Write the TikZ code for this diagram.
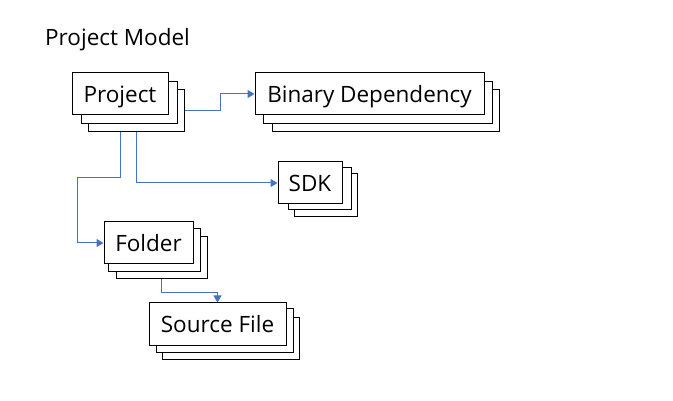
\documentclass[tikz,border=0pt]{standalone}
\usepackage{fontspec}
\setmainfont{Open Sans}
\usetikzlibrary{calc,arrows.meta}
\tikzset{
  sheet/.style={draw=black,line width=1pt,fill=white,inner sep=0pt},
  front/.style={draw=black,line width=1pt,fill=white,inner sep=0pt,text height=18pt,text depth=0pt,font=\fontsize{22.5}{24}\selectfont},
  arr/.style={draw={rgb,255:red,68;green,114;blue,196},line width=1pt,-{Triangle[length=7pt,width=8pt]}}
}
\begin{document}
\begin{tikzpicture}[x=1pt,y=-1pt]
\useasboundingbox (0,0) rectangle (673,401);
\node[anchor=base west,inner sep=0pt,font=\fontsize{22.5}{24}\selectfont] (title) at (45,46) {Project Model};
% Project
\node[sheet,minimum width=96,minimum height=42] (projC) at (136,111) {};
\node[sheet,minimum width=96,minimum height=42] (projB) at (129,103) {};
\node[front,minimum width=96,minimum height=42] (proj) at (120,94) {Project};
% Binary
\node[sheet,minimum width=227,minimum height=42] (binC) at (385.5,111) {};
\node[sheet,minimum width=229,minimum height=42] (binB) at (377.5,103) {};
\node[front,minimum width=229,minimum height=42] (bin) at (369.5,94) {Binary Dependency};
% SDK
\node[sheet,minimum width=63,minimum height=43] (sdkC) at (325.5,195.5) {};
\node[sheet,minimum width=63,minimum height=42] (sdkB) at (319.5,189) {};
\node[front,minimum width=64,minimum height=42] (sdk) at (310,183) {SDK};
% Folder
\node[sheet,minimum width=91,minimum height=42] (folC) at (161.5,258) {};
\node[sheet,minimum width=92,minimum height=43] (folB) at (154,250.5) {};
\node[front,minimum width=89,minimum height=42] (fol) at (148.5,243) {Folder};
% Source File
\node[sheet,minimum width=137,minimum height=42] (srcC) at (230.5,338) {};
\node[sheet,minimum width=137,minimum height=43] (srcB) at (224.5,330.5) {};
\node[front,minimum width=137,minimum height=42] (src) at (217.5,324) {Source File};
% connectors
\draw[arr] (projC.east) -- ++(36,0) |- (bin.west);
\draw[arr] ($(projC.south west)+(49,0)$) |- (sdk.west);
\draw[arr] ($(projC.south west)+(33,0)$) -- ++(0,45) -- ++(-43,0) |- (fol.west);
\draw[arr] ($(folC.south west)+(46,0)$) -- ++(0,13) -| (src.north);
\end{tikzpicture}
\end{document}
